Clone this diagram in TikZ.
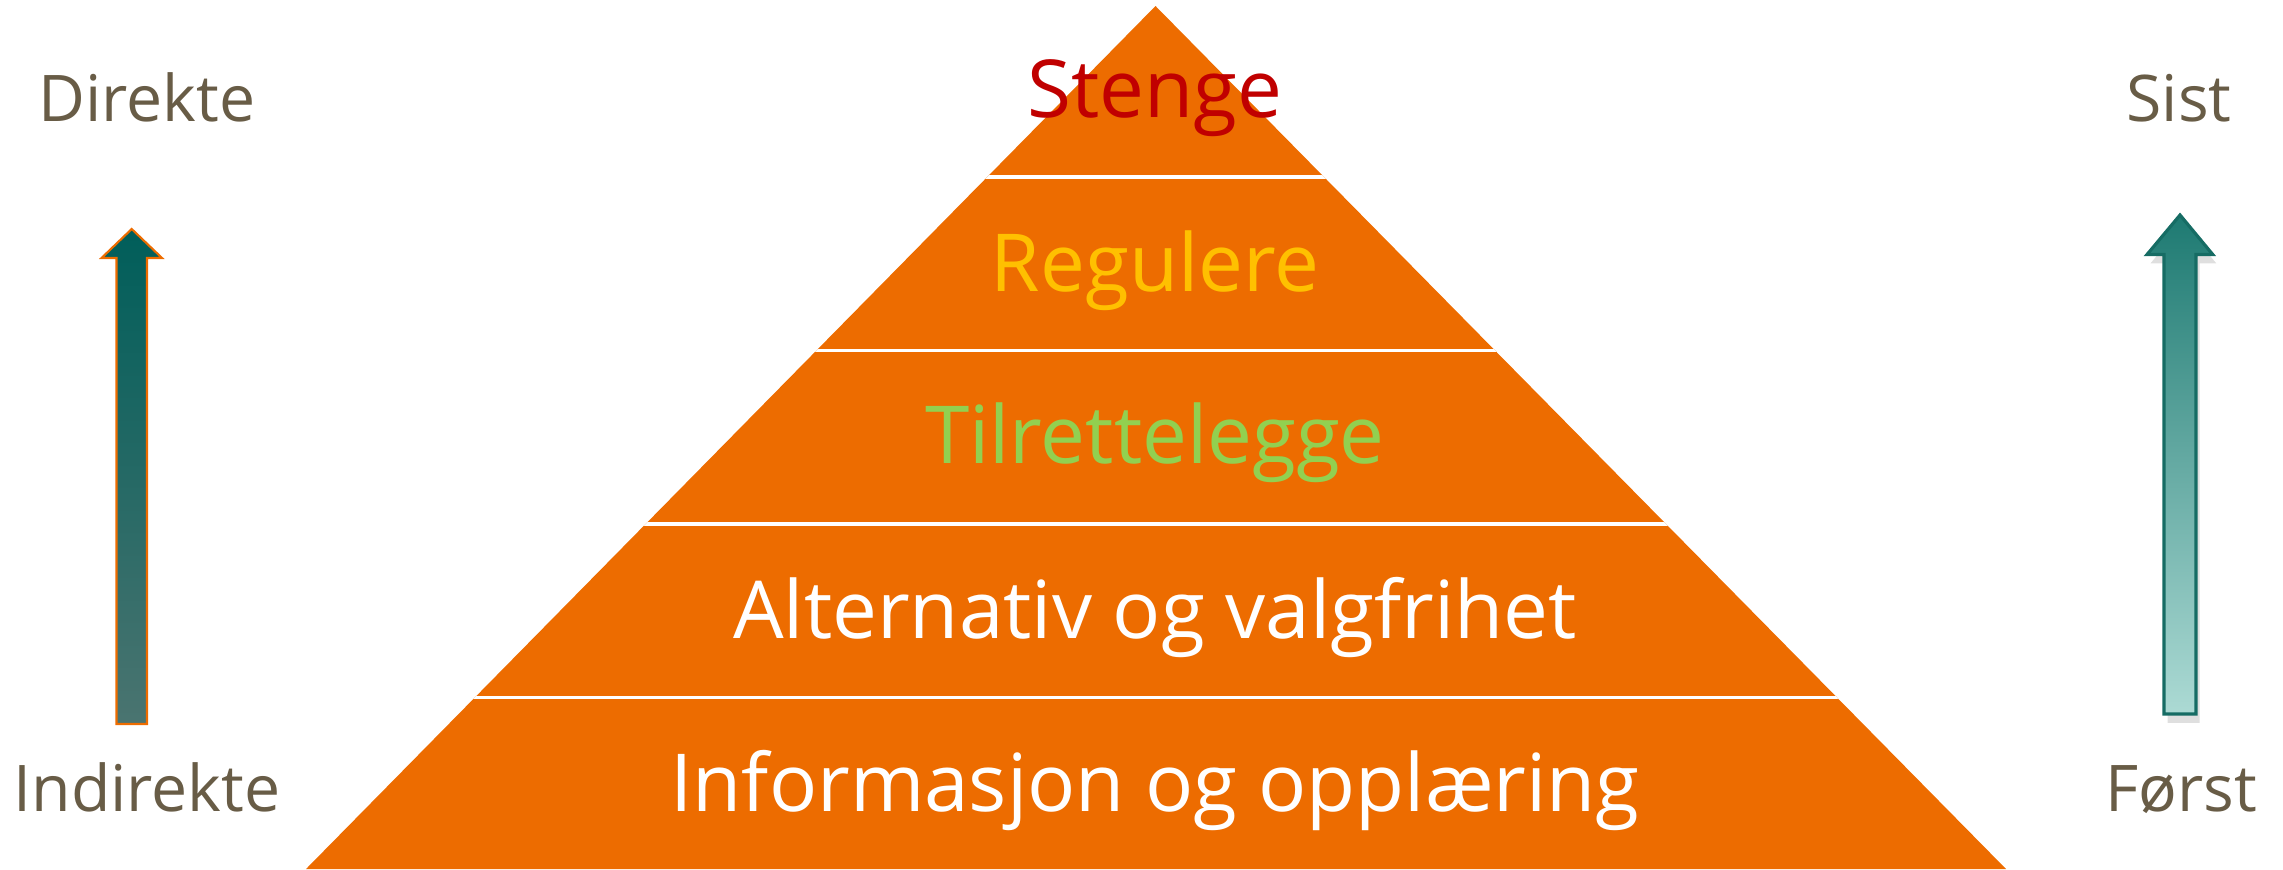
\documentclass[tikz,border=0pt]{standalone}
\usepackage{fontspec}
\setmainfont{Open Sans}
\usetikzlibrary{shadows}
\definecolor{pyrorange}{RGB}{237,108,0}
\definecolor{sidebrown}{RGB}{104,92,70}
\definecolor{stengered}{RGB}{192,0,0}
\definecolor{regulgold}{RGB}{255,192,0}
\definecolor{tilrgreen}{RGB}{146,208,80}
\definecolor{darkteal}{RGB}{0,94,90}
\definecolor{greyteal}{RGB}{74,116,112}
\definecolor{midteal}{RGB}{30,122,114}
\definecolor{paleteal}{RGB}{172,218,212}
\definecolor{edgeteal}{RGB}{22,108,100}

\begin{document}
\begin{tikzpicture}[x=0.01cm,y=-0.01cm,
  sidelabel/.style={anchor=base,text=sidebrown,font=\fontsize{18.3pt}{22pt}\selectfont},
  layertext/.style={anchor=base,font=\fontsize{22.75pt}{28pt}\selectfont}]
\useasboundingbox (0,0) rectangle (2283,869);
% pyramid
\fill[pyrorange] (1155.5,6) -- (2006,869) -- (306,869) -- cycle;
\begin{scope}
\clip (1155.5,6) -- (2006,869) -- (306,869) -- cycle;
\foreach \y in {177,350.5,524,697.5}
  \draw[white,line width=0.9pt] (300,\y) -- (2010,\y);
\end{scope}
\node[layertext,text=stengered] (stenge) at (1155,117) {Stenge};
\node[layertext,text=regulgold] (regulere) at (1155,291) {Regulere};
\node[layertext,text=tilrgreen] (tilrette) at (1155,463) {Tilrettelegge};
\node[layertext,text=white] (altern) at (1155,638) {Alternativ og valgfrihet};
\node[layertext,text=white] (inform) at (1155,811) {Informasjon og opplæring};
% left arrow
\draw[pyrorange,line width=0.6pt,top color=darkteal,bottom color=greyteal]
  (116.5,724) -- (116.5,258) -- (101.5,258) -- (131.7,229) -- (162,258)
  -- (147,258) -- (147,724) -- cycle;
\node[sidelabel] (direkte) at (147,121.7) {Direkte};
\node[sidelabel] (indirekte) at (147,811.7) {Indirekte};
% right arrow
\draw[edgeteal,line width=0.9pt,top color=midteal,bottom color=paleteal,
  drop shadow={opacity=0.25,shadow xshift=1pt,shadow yshift=-2.5pt}]
  (2164,714) -- (2164,254.5) -- (2147,254.5) -- (2180,215) -- (2212.7,254.5)
  -- (2196,254.5) -- (2196,714) -- cycle;
\node[sidelabel] (sist) at (2179,121) {Sist};
\node[sidelabel] (forst) at (2181,811.7) {Først};
\end{tikzpicture}
\end{document}
